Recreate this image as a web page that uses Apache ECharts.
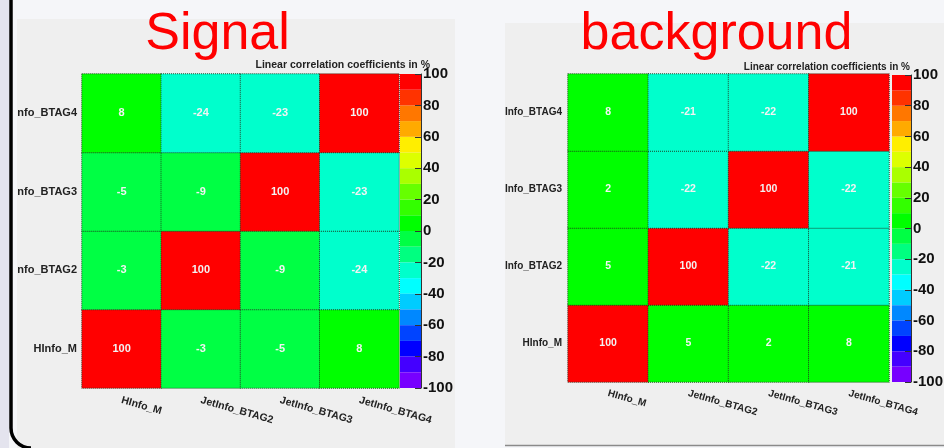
<!DOCTYPE html>
<html>
<head>
<meta charset="utf-8">
<script src="https://cdn.jsdelivr.net/npm/echarts@6/dist/echarts.min.js"></script>
<style>
  html, body { margin: 0; padding: 0; background: #f5f6f9; }
  #chart { width: 944px; height: 448px; }
</style>
</head>
<body>
<div id="chart"></div>
<script>
// Input variables of the correlation matrices (bottom row first)
const variables = ['HInfo_M', 'JetInfo_BTAG2', 'JetInfo_BTAG3', 'JetInfo_BTAG4'];

// Linear correlation coefficients in %, one row per variable, HInfo_M row first
const signalCorr = [
  [100, -3, -5, 8],
  [-3, 100, -9, -24],
  [-5, -9, 100, -23],
  [8, -24, -23, 100]
];
const backgroundCorr = [
  [100, 5, 2, 8],
  [5, 100, -22, -21],
  [2, -22, 100, -22],
  [8, -21, -22, 100]
];

// Palette band edges and the colour of each band (from -100 up to 100)
const paletteLevels = [-100, -90, -80, -70, -60, -50, -40, -30, -20, -10, 0, 10, 20, 30, 40, 50, 60, 70, 80, 90, 100];
const paletteColors = [
  '#7700ff', '#4400ff', '#0000ff', '#0044ff', '#0088ff',
  '#00ccff', '#00ffff', '#00ffcc', '#00ff80', '#00ff44',
  '#00ff00', '#33ff00', '#66ff00', '#aaff00', '#ddff00',
  '#ffee00', '#ffaa00', '#ff7700', '#ff3300', '#ff0000'
];

const panelTitles = ['Signal', 'background'];
const paletteTitle = 'Linear correlation coefficients in %';

const FONT = '"Liberation Sans", Arial, Helvetica, sans-serif';
const PAGE_BG = '#f5f6f9';
const PANEL_BG = '#efefef';

// Layout of the two panels
const panels = [
  {
    title: panelTitles[0], matrix: signalCorr,
    heat: { left: 82, top: 74, width: 317, height: 314 },
    bar: { left: 400, top: 74, width: 21, height: 314 },
    yFont: 11, yMargin: 5, xFont: 10.5, cellFont: 11, xMargin: 12,
    titleX: 217.5, titleY: 35,
    paletteTitleX: 430, paletteTitleY: 65, paletteTitleFont: 10.5
  },
  {
    title: panelTitles[1], matrix: backgroundCorr,
    heat: { left: 568, top: 74, width: 321, height: 308 },
    bar: { left: 892, top: 75, width: 19, height: 307 },
    yFont: 10, yMargin: 6, xFont: 10, cellFont: 10.5, xMargin: 11,
    titleX: 716.5, titleY: 35,
    paletteTitleX: 910, paletteTitleY: 67, paletteTitleFont: 10
  }
];

const pieces = paletteColors.map((c, i) => (
  i === 0
    ? { gte: paletteLevels[i], lte: paletteLevels[i + 1], color: c }
    : { gt: paletteLevels[i], lte: paletteLevels[i + 1], color: c }
));

const grids = [], xAxes = [], yAxes = [], series = [], heatSeriesIdx = [];

panels.forEach((p, k) => {
  const gHeat = grids.length;
  grids.push(Object.assign({ show: false, containLabel: false, outerBoundsMode: 'none' }, p.heat));
  const gBar = grids.length;
  grids.push(Object.assign({ show: false, containLabel: false, outerBoundsMode: 'none' }, p.bar));

  // heatmap axes
  xAxes.push({
    type: 'category', gridIndex: gHeat, data: variables,
    axisLine: { show: false }, axisTick: { show: false }, splitArea: { show: false },
    axisLabel: {
      rotate: -16, margin: p.xMargin, interval: 0,
      fontFamily: FONT, fontWeight: 'bold', fontSize: p.xFont, color: '#222'
    }
  });
  yAxes.push({
    type: 'category', gridIndex: gHeat, data: variables,
    axisLine: { show: false }, axisTick: { show: false }, splitArea: { show: false },
    axisLabel: {
      margin: p.yMargin, interval: 0,
      fontFamily: FONT, fontWeight: 'bold', fontSize: p.yFont, color: '#222'
    }
  });

  // palette axes
  xAxes.push({
    type: 'category', gridIndex: gBar, data: [''], show: false
  });
  yAxes.push({
    type: 'value', gridIndex: gBar, position: 'right',
    min: paletteLevels[0], max: paletteLevels[paletteLevels.length - 1], interval: 20,
    splitLine: { show: false },
    axisLine: { show: true, lineStyle: { color: '#333', width: 1 } },
    axisTick: { show: true, inside: true, length: 6, lineStyle: { color: '#333', width: 1 } },
    axisLabel: {
      margin: 2, fontFamily: FONT, fontSize: 15, fontWeight: 'bold', color: '#111'
    },
    z: 5
  });

  const xIdx = xAxes.length - 2, yIdx = yAxes.length - 2;
  const data = [];
  p.matrix.forEach((row, r) => row.forEach((v, c) => data.push([c, r, v])));

  heatSeriesIdx.push(series.length);
  series.push({
    type: 'heatmap', name: p.title,
    xAxisIndex: xIdx, yAxisIndex: yIdx,
    data: data,
    silent: true,
    itemStyle: { borderColor: 'rgba(30,50,30,0.85)', borderWidth: 1, borderType: 'dotted' },
    label: {
      show: true, formatter: (q) => String(q.value[2]),
      fontFamily: FONT, fontWeight: 'bold', fontSize: p.cellFont, color: '#f3f3f3'
    },
    emphasis: { disabled: true }
  });

  // palette: negative bands stacked downward from 0, positive bands upward from 0
  const order = [];
  for (let i = paletteColors.length - 1; i >= 0; i--) if (paletteLevels[i + 1] <= 0) order.push(i);
  for (let i = 0; i < paletteColors.length; i++) if (paletteLevels[i] >= 0) order.push(i);
  order.forEach((i) => {
    const lo = paletteLevels[i], hi = paletteLevels[i + 1];
    series.push({
      type: 'bar', stack: 'palette' + k, silent: true,
      xAxisIndex: xIdx + 1, yAxisIndex: yIdx + 1,
      barWidth: '100%', barCategoryGap: 0,
      data: [hi <= 0 ? lo - hi : hi - lo],
      itemStyle: { color: paletteColors[i] },
      emphasis: { disabled: true }
    });
  });
});

// Backgrounds, frames and titles
const graphics = [
  { type: 'rect', z: -10, silent: true, shape: { x: 17, y: 19, width: 438, height: 429 }, style: { fill: PANEL_BG } },
  { type: 'rect', z: -10, silent: true, shape: { x: 505, y: 23, width: 439, height: 422 }, style: { fill: PANEL_BG } },
  { type: 'line', z: -9, silent: true, shape: { x1: 505, y1: 445.5, x2: 944, y2: 445.5 }, style: { stroke: '#8a8a8a', lineWidth: 1.5 } },
  // page margins between and beside the panels
  { type: 'rect', z: 50, silent: true, shape: { x: 0, y: 0, width: 17, height: 448 }, style: { fill: PAGE_BG } },
  { type: 'rect', z: 50, silent: true, shape: { x: 455, y: 0, width: 50, height: 448 }, style: { fill: PAGE_BG } },
  { type: 'rect', z: 51, silent: true, shape: { x: 0, y: 0, width: 9, height: 448 }, style: { fill: '#e4e4ee' } },
  // rounded window frame on the left
  { type: 'line', z: 52, silent: true, shape: { x1: 11, y1: -2, x2: 11, y2: 428 }, style: { stroke: '#000', lineWidth: 3.5 } },
  { type: 'arc', z: 52, silent: true, shape: { cx: 31, cy: 428, r: 20, startAngle: Math.PI / 2, endAngle: Math.PI, clockwise: true }, style: { fill: 'none', stroke: '#000', lineWidth: 3.5 } }
];
panels.forEach((p) => {
  graphics.push({
    type: 'text', z: 60, silent: true,
    style: {
      text: p.title, x: p.titleX, y: p.titleY,
      fill: '#ff0000', font: '52px ' + FONT,
      align: 'center', verticalAlign: 'middle', textAlign: 'center', textVerticalAlign: 'middle'
    }
  });
  graphics.push({
    type: 'text', z: 60, silent: true,
    style: {
      text: paletteTitle, x: p.paletteTitleX, y: p.paletteTitleY,
      fill: '#222', font: 'bold ' + p.paletteTitleFont + 'px ' + FONT,
      align: 'right', verticalAlign: 'middle', textAlign: 'right', textVerticalAlign: 'middle'
    }
  });
});

const chart = echarts.init(document.getElementById('chart'), null, { renderer: 'canvas' });
chart.setOption({
  backgroundColor: PAGE_BG,
  animation: false,
  textStyle: { fontFamily: FONT },
  grid: grids,
  xAxis: xAxes,
  yAxis: yAxes,
  visualMap: {
    type: 'piecewise', show: false, dimension: 2,
    seriesIndex: heatSeriesIdx,
    pieces: pieces
  },
  series: series,
  graphic: { elements: graphics }
});
</script>
</body>
</html>
